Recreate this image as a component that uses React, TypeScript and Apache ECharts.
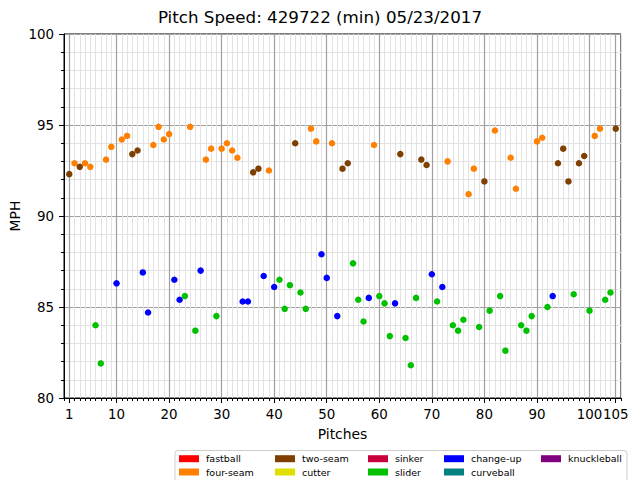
import { useEffect, useRef } from 'react';
import * as echarts from 'echarts';

// pitch speeds (MPH), pitch number = index + 1
const PITCH_SPEEDS = [
  92.3, 92.9, 92.7, 92.9, 92.7, 84.0, 81.9, 93.1, 93.8, 86.3,
  94.2, 94.4, 93.4, 93.6, 86.9, 84.7, 93.9, 94.9, 94.2, 94.5,
  86.5, 85.4, 85.6, 94.9, 83.7, 87.0, 93.1, 93.7, 84.5, 93.7,
  94.0, 93.6, 93.2, 85.3, 85.3, 92.4, 92.6, 86.7, 92.5, 86.1,
  86.5, 84.9, 86.2, 94.0, 85.8, 84.9, 94.8, 94.1, 87.9, 86.6,
  94.0, 84.5, 92.6, 92.9, 87.4, 85.4, 84.2, 85.5, 93.9, 85.6,
  85.2, 83.4, 85.2, 93.4, 83.3, 81.8, 85.5, 93.1, 92.8, 86.8,
  85.3, 86.1, 93.0, 84.0, 83.7, 84.3, 91.2, 92.6, 83.9, 91.9,
  84.8, 94.7, 85.6, 82.6, 93.2, 91.5, 84.0, 83.7, 84.5, 94.1,
  94.3, 85.0, 85.6, 92.9, 93.7, 91.9, 85.7, 92.9, 93.3, 84.8,
  94.4, 94.8, 85.4, 85.8, 94.8,
];

// pitch type per pitch: TS two-seam, FS four-seam, SL slider, CH change-up
const PITCH_TYPES = [
  'TS', 'FS', 'TS', 'FS', 'FS', 'SL', 'SL', 'FS', 'FS', 'CH',
  'FS', 'FS', 'TS', 'TS', 'CH', 'CH', 'FS', 'FS', 'FS', 'FS',
  'CH', 'CH', 'SL', 'FS', 'SL', 'CH', 'FS', 'FS', 'SL', 'FS',
  'FS', 'FS', 'FS', 'CH', 'CH', 'TS', 'TS', 'CH', 'FS', 'CH',
  'SL', 'SL', 'SL', 'TS', 'SL', 'SL', 'FS', 'FS', 'CH', 'CH',
  'FS', 'CH', 'TS', 'TS', 'SL', 'SL', 'SL', 'CH', 'FS', 'SL',
  'SL', 'SL', 'CH', 'TS', 'SL', 'SL', 'SL', 'TS', 'TS', 'CH',
  'SL', 'CH', 'FS', 'SL', 'SL', 'SL', 'FS', 'FS', 'SL', 'TS',
  'SL', 'FS', 'SL', 'SL', 'FS', 'FS', 'SL', 'SL', 'SL', 'FS',
  'FS', 'SL', 'CH', 'TS', 'TS', 'TS', 'SL', 'TS', 'TS', 'SL',
  'FS', 'FS', 'SL', 'SL', 'TS',
];

const TYPE_CODES = ['FB', 'FS', 'TS', 'CT', 'SI', 'SL', 'CH', 'CU', 'KN'];
const TYPE_NAMES = ['fastball', 'four-seam', 'two-seam', 'cutter', 'sinker', 'slider', 'change-up', 'curveball', 'knuckleball'];
const TYPE_COLORS = ['#ff0000', '#ff7f00', '#7f3f00', '#e0e000', '#c8003c', '#00c000', '#0000ff', '#008080', '#800080'];

const X_MAJOR_TICKS = [1, 10, 20, 30, 40, 50, 60, 70, 80, 90, 100, 105];
const Y_MAJOR_TICKS = [80, 85, 90, 95, 100];

const TITLE = 'Pitch Speed: 429722 (min) 05/23/2017';
const FONT = 'DejaVu Sans';

// legend columns (column-major, two rows)
const LEGEND_COLUMNS = [
  ['fastball', 'four-seam'],
  ['two-seam', 'cutter'],
  ['sinker', 'slider'],
  ['change-up', 'curveball'],
  ['knuckleball'],
];
const LEGEND_LEFTS = [179, 275, 368, 444, 541];

function buildOption() {
  const series = TYPE_CODES.map((code, i) => ({
    type: 'scatter',
    name: TYPE_NAMES[i],
    xAxisIndex: 0,
    yAxisIndex: 0,
    symbol: 'circle',
    symbolSize: 6.5,
    itemStyle: { color: TYPE_COLORS[i], opacity: 1 },
    data: PITCH_SPEEDS.map((v, k) => [k + 1, v]).filter((_, k) => PITCH_TYPES[k] === code),
    z: 5,
  }));

  const legends = LEGEND_COLUMNS.map((names, i) => ({
    orient: 'vertical',
    left: LEGEND_LEFTS[i],
    top: 452.7,
    padding: 0,
    itemGap: 1.3,
    itemWidth: 20,
    itemHeight: 7,
    icon: 'rect',
    selectedMode: false,
    data: names,
    z: 10,
    textStyle: { fontSize: 9.5, fontFamily: FONT, color: '#000', lineHeight: 12, padding: [0, 0, 0, 2] },
  }));

  return {
    animation: false,
    backgroundColor: '#ffffff',
    textStyle: { fontFamily: FONT },
    title: {
      text: TITLE,
      left: 'center',
      top: 8,
      padding: 0,
      textStyle: { fontSize: 16.7, fontWeight: 'normal', color: '#000', fontFamily: FONT },
    },
    grid: {
      left: 64,
      top: 34,
      width: 557,
      height: 364,
      show: true,
      borderColor: '#000',
      borderWidth: 1,
      backgroundColor: 'transparent',
    },
    xAxis: [
      {
        type: 'value',
        min: 0,
        max: 106,
        interval: 1,
        position: 'bottom',
        axisLine: { show: true, onZero: false, lineStyle: { color: '#000', width: 1 } },
        axisTick: { show: true, length: 3, lineStyle: { color: '#000' } },
        axisLabel: { show: false },
        splitLine: { show: true, lineStyle: { color: '#e2e2e2', width: 1 } },
        name: 'Pitches',
        nameLocation: 'middle',
        nameGap: 29,
        nameTextStyle: { fontSize: 13.9, color: '#000', fontFamily: FONT },
      },
      {
        type: 'value',
        min: 0,
        max: 106,
        position: 'bottom',
        axisLine: { show: false, onZero: false },
        axisTick: { show: true, length: 5, customValues: X_MAJOR_TICKS, lineStyle: { color: '#000' } },
        axisLabel: { show: true, customValues: X_MAJOR_TICKS, margin: 10, fontSize: 13.4, color: '#000', fontFamily: FONT, showMinLabel: true, showMaxLabel: true },
        splitLine: { show: true, lineStyle: { color: '#a0a0a0', width: 1.2 } },
      },
    ],
    yAxis: [
      {
        type: 'value',
        min: 80,
        max: 100,
        interval: 1,
        position: 'left',
        axisLine: { show: true, onZero: false, lineStyle: { color: '#000', width: 1 } },
        axisTick: { show: true, length: 3, lineStyle: { color: '#000' } },
        axisLabel: { show: false },
        splitLine: { show: true, lineStyle: { color: '#e2e2e2', width: 1 } },
        name: 'MPH',
        nameLocation: 'middle',
        nameGap: 42,
        nameTextStyle: { fontSize: 13.9, color: '#000', fontFamily: FONT },
      },
      {
        type: 'value',
        min: 80,
        max: 100,
        interval: 5,
        position: 'left',
        axisLine: { show: false, onZero: false },
        axisTick: { show: true, length: 5, lineStyle: { color: '#000' } },
        axisLabel: { show: true, margin: 10, fontSize: 13.4, color: '#000', fontFamily: FONT, customValues: Y_MAJOR_TICKS },
        splitLine: { show: true, lineStyle: { color: '#a0a0a0', width: 1.2 } },
      },
    ],
    legend: legends,
    graphic: [
      {
        type: 'rect',
        z: 1,
        shape: { x: 175, y: 450.5, width: 452, height: 40, r: 3 },
        style: { fill: '#ffffff', stroke: '#cccccc', lineWidth: 1 },
      },
    ],
    series,
  };
}

export default function App() {
  const ref = useRef<HTMLDivElement>(null);
  useEffect(() => {
    if (!ref.current) return;
    const chart = echarts.init(ref.current, null, { renderer: 'svg' });
    chart.setOption(buildOption() as any);
    return () => chart.dispose();
  }, []);
  return (
    <div
      ref={ref}
      style={{ position: 'fixed', left: 0, top: 0, width: 640, height: 480 }}
    />
  );
}
